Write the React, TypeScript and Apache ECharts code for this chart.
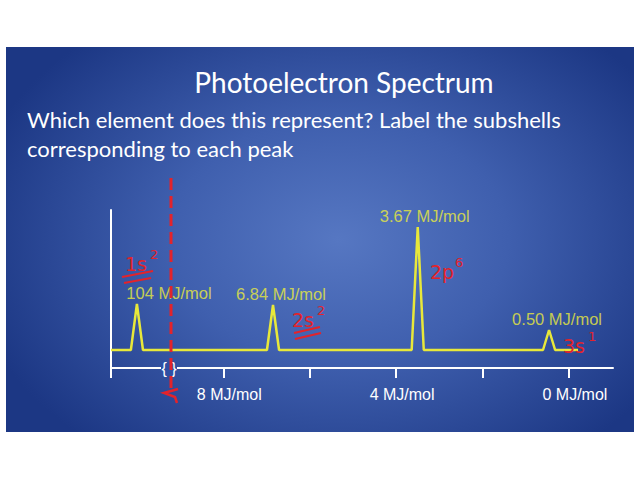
import React, { useEffect, useRef } from "react";
import * as echarts from "echarts";

// ---- data ----
const peakEnergies = [104, 6.84, 3.67, 0.5]; // MJ/mol (labels)
const peakPositions = [10.0, 6.85, 3.5, 0.46]; // drawn position on the (broken) energy axis
const peakHeights = [2.3, 2.25, 6.15, 1.0]; // relative peak heights
const tickValues = [0, 2, 4, 6, 8, 10.6];
const labelValues = [0, 4, 8];
const subshellBase = ["1s", "2s", "2p", "3s"];
const subshellCount = ["2", "2", "6", "1"];
const titleText = "Photoelectron Spectrum";
const questionText = "Which element does this represent? Label the subshells\ncorresponding to each peak";

const AXIS_MIN = -1.02;
const AXIS_MAX = 10.6;
const BASE_END = -0.21;
const HALF_WIDTH = 0.14;

export default function App() {
  const ref = useRef<HTMLDivElement>(null);
  useEffect(() => {
    if (!ref.current) return;
    const chart = echarts.init(ref.current, undefined, { renderer: "svg" });

    const order = peakPositions.map((_, i) => i).sort((a, b) => peakPositions[b] - peakPositions[a]);
    const spectrum: number[][] = [[AXIS_MAX, 0]];
    order.forEach((i) => {
      spectrum.push([peakPositions[i] + HALF_WIDTH, 0]);
      spectrum.push([peakPositions[i], peakHeights[i]]);
      spectrum.push([peakPositions[i] - HALF_WIDTH, 0]);
    });
    spectrum.push([BASE_END, 0]);

    const labelOffsets = [[32, 0], [8, 0], [7, 0], [8, 0]];
    const peakLabelData = peakPositions.map((p, i) => ({
      value: [p, peakHeights[i]],
      label: {
        formatter: `${peakEnergies[i].toFixed(i === 0 ? 0 : 2)} MJ/mol`,
        offset: labelOffsets[i],
      },
    }));

    const red = "#e3232b";
    const handFont = '19px "DejaVu Sans"';
    const supFont = '13px "DejaVu Sans"';
    const notePos = [
      [125, 254],
      [292, 310],
      [430, 262],
      [563, 336],
    ];
    const noteGraphics: any[] = [];
    notePos.forEach(([x, y], i) => {
      noteGraphics.push({ type: "text", x, y, style: { text: subshellBase[i], fill: red, font: handFont }, z: 12 });
      noteGraphics.push({ type: "text", x: x + 25, y: y - 6, style: { text: subshellCount[i], fill: red, font: supFont }, z: 12 });
    });

    chart.setOption({
      animation: false,
      backgroundColor: "transparent",
      title: [
        {
          text: titleText,
          left: 339,
          top: 63,
          textAlign: "center",
          textStyle: { color: "#ffffff", fontFamily: "Lato", fontSize: 28, fontWeight: "normal" },
        },
        {
          text: questionText,
          left: 22,
          top: 100,
          textStyle: { color: "#ffffff", fontFamily: "Lato", fontSize: 22, fontWeight: "normal", lineHeight: 29 },
        },
      ],
      grid: { left: 111, right: 27, top: 210, bottom: 112 },
      xAxis: {
        type: "value",
        inverse: true,
        min: AXIS_MIN,
        max: AXIS_MAX,
        position: "bottom",
        axisLine: { show: true, onZero: false, lineStyle: { color: "#ffffff", width: 2 } },
        axisTick: { show: true, customValues: tickValues, length: 10, lineStyle: { color: "#ffffff", width: 2 } },
        axisLabel: {
          show: true,
          customValues: labelValues,
          formatter: (v: number) => `${v} MJ/mol`,
          color: "#ffffff",
          fontFamily: '"Liberation Sans", Arial',
          fontSize: 16,
          margin: 18,
          padding: [0, 0, 0, 12],
        },
        splitLine: { show: false },
      },
      yAxis: {
        type: "value",
        min: -0.9,
        max: 7,
        position: "left",
        axisLine: { show: true, onZero: false, lineStyle: { color: "#ffffff", width: 2 } },
        axisTick: { show: false },
        axisLabel: { show: false },
        splitLine: { show: false },
      },
      series: [
        {
          type: "line",
          data: spectrum,
          showSymbol: false,
          symbol: "none",
          lineStyle: { color: "#e8e83a", width: 2.5 },
          z: 3,
        },
        {
          type: "scatter",
          data: peakLabelData,
          symbolSize: 1,
          itemStyle: { color: "rgba(0,0,0,0)" },
          label: {
            show: true,
            position: "top",
            distance: 2,
            color: "#ecec3c",
            fontFamily: '"Liberation Sans", Arial',
            fontSize: 16.5,
          },
          z: 4,
        },
      ],
      graphic: [
        // axis break symbol
        { type: "rect", shape: { x: 161, y: 362, width: 16, height: 14 }, style: { fill: "#2f4fa3" }, z: 10 },
        {
          type: "text",
          x: 169,
          y: 368,
          style: { text: "{ }", fill: "#ffffff", font: '16px "Liberation Sans"', align: "center", verticalAlign: "middle" },
          z: 11,
        },
        // red dashed annotation line
        {
          type: "line",
          shape: { x1: 171, y1: 178, x2: 171, y2: 388 },
          style: { stroke: red, lineWidth: 3, lineDash: [12, 6] },
          z: 12,
        },
        {
          type: "polyline",
          shape: { points: [[178, 389], [164, 393], [175, 397], [177, 403]] },
          style: { stroke: red, lineWidth: 2.5, fill: null },
          z: 12,
        },
        // handwritten subshell notes
        ...noteGraphics,
        { type: "line", shape: { x1: 122, y1: 277, x2: 153, y2: 271 }, style: { stroke: red, lineWidth: 2 }, z: 12 },
        { type: "line", shape: { x1: 124, y1: 283, x2: 151, y2: 278 }, style: { stroke: red, lineWidth: 2 }, z: 12 },
        { type: "line", shape: { x1: 294, y1: 333, x2: 320, y2: 327 }, style: { stroke: red, lineWidth: 2 }, z: 12 },
        { type: "line", shape: { x1: 295, y1: 339, x2: 321, y2: 333 }, style: { stroke: red, lineWidth: 2 }, z: 12 },
      ],
    });
    return () => chart.dispose();
  }, []);

  return (
    <div style={{ position: "fixed", left: 0, top: 0, width: 640, height: 480, background: "#ffffff", overflow: "hidden" }}>
      <div
        style={{
          position: "absolute",
          left: 6,
          top: 47,
          width: 628,
          height: 385,
          background: "radial-gradient(ellipse 60% 70% at 53% 50%, #5677c2 0%, #3f5fae 45%, #1c3784 100%)",
        }}
      />
      <div ref={ref} style={{ position: "absolute", left: 0, top: 0, width: 640, height: 480 }} />
    </div>
  );
}
